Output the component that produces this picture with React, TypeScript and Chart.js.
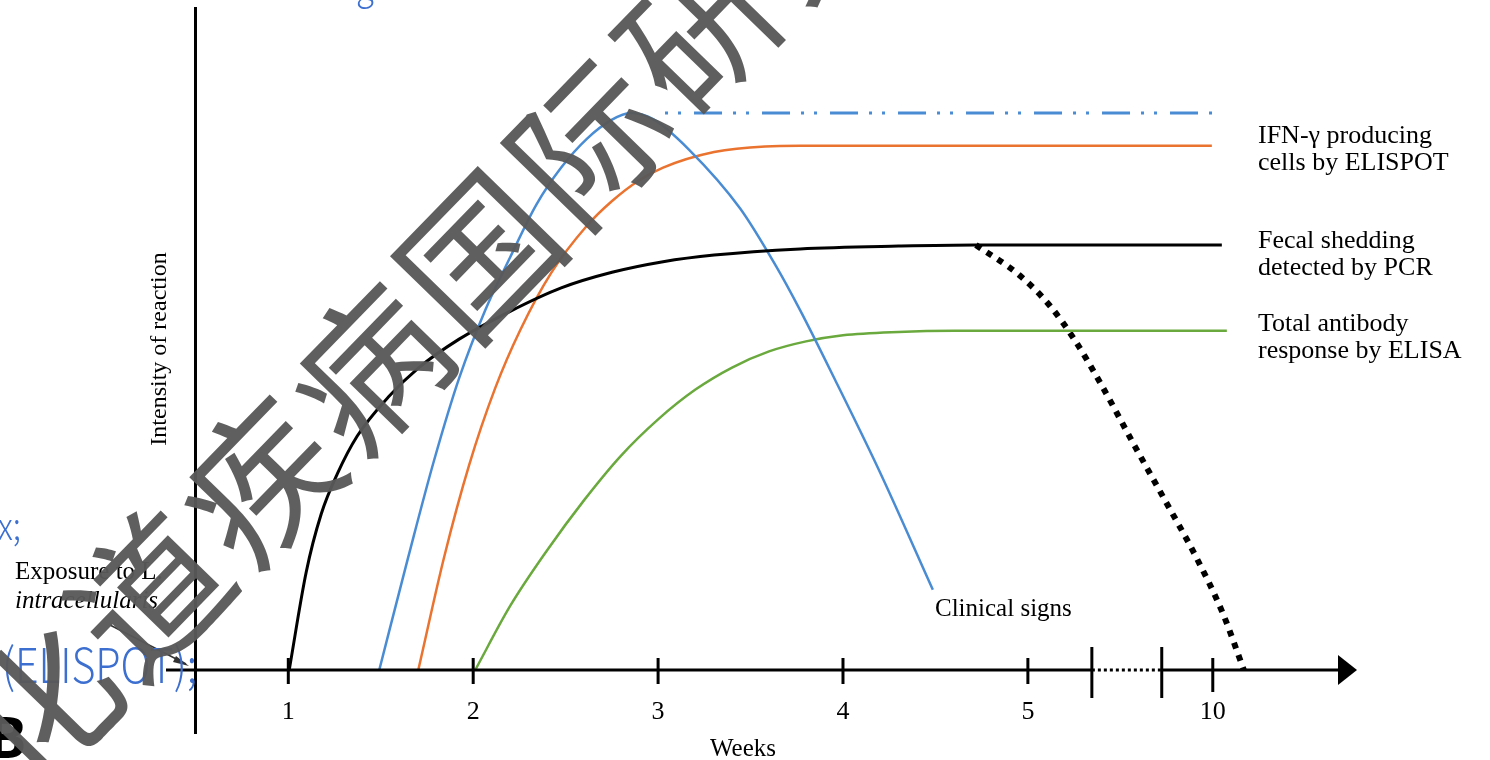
import { useEffect, useRef } from "react";
import { Chart, registerables } from "chart.js";

Chart.register(...registerables);

// ---- axis definition (x is a "position" scale: weeks 1..5 evenly spaced, then a break, then week 10) ----
const X_MIN = 0.49;
const X_MAX = 6.78;
const Y_MIN = -11.49;
const Y_MAX = 119.03;
const TICK_POSITIONS = [1, 2, 3, 4, 5, 6];
const TICK_LABELS = ["1", "2", "3", "4", "5", "10"];
const AXIS_BREAK = [5.346, 5.724];
const X_TITLE = "Weeks";
const Y_TITLE = "Intensity of reaction";

// ---- series ----
const fecalX = [1.005, 1.097, 1.178, 1.265, 1.373, 1.541, 1.703, 1.924, 2.2, 2.476, 2.751, 3.027, 3.303, 3.768, 4.3, 4.714, 6.049];
const fecalY = [0, 17.6, 28, 35.2, 42, 49, 54.2, 59.4, 64.4, 68.6, 71.4, 73.3, 74.5, 75.6, 76.1, 76.3, 76.3];

const clinicalX = [1.492, 1.649, 1.789, 1.924, 2.065, 2.2, 2.341, 2.476, 2.616, 2.751, 2.849, 2.973, 3.168, 3.443, 3.638, 3.768, 3.957, 4.2, 4.486];
const clinicalY = [0, 20.3, 37.7, 52.4, 64.6, 74.1, 83.5, 90.2, 95.4, 98.8, 100, 98.9, 93.4, 82.9, 72.5, 64.6, 52.1, 35.5, 14.4];

const ifnX = [1.703, 1.843, 1.978, 2.119, 2.254, 2.422, 2.616, 2.751, 2.892, 3.027, 3.303, 3.578, 3.768, 5.995];
const ifnY = [0, 20.3, 36.8, 50.6, 61.0, 71.3, 79.8, 84.2, 87.8, 90.2, 93.0, 94.0, 94.1, 94.1];

const antibodyX = [2.011, 2.2, 2.4, 2.6, 2.8, 3.0, 3.2, 3.4, 3.6, 3.8, 4.0, 4.3, 4.6, 6.076];
const antibodyY = [0, 11.5, 21.5, 30.5, 38.5, 45.0, 50.3, 54.3, 57.2, 59.0, 60.1, 60.7, 60.9, 60.9];

const plateauX = [2.978, 6.017];
const plateauY = [100, 100];

const declineX = [4.719, 4.957, 5.119, 5.254, 5.389, 5.578, 5.746, 5.908, 6.054, 6.168];
const declineY = [76.3, 70.8, 65.4, 59.2, 51.7, 40.2, 30.2, 20.4, 10.2, 0];

// ---- text ----
const SERIES_LABELS = [
  ["IFN-\u03b3 producing", "cells by ELISPOT"],
  ["Fecal shedding", "detected by PCR"],
  ["Total antibody", "response by ELISA"],
];
const CLINICAL_LABEL = "Clinical signs";
const EXPOSURE_LABEL = ["Exposure to L.", "intracellularis"];
const WATERMARK = ["化", "道", "疾", "病", "国", "际", "研", "究"];

const BLUE = "#4a8cd3";
const ORANGE = "#ea7330";
const GREEN = "#6aa93d";

const pts = (xs: number[], ys: number[]) => xs.map((x, i) => ({ x, y: ys[i] }));

const SERIF = "'Liberation Serif', 'Times New Roman', serif";
const SANS_LIGHT = "'Noto Sans CJK SC', 'Noto Sans', sans-serif";

const decorPlugin = {
  id: "decor",
  afterDraw(chart: any) {
    const ctx: CanvasRenderingContext2D = chart.ctx;
    const xs = chart.scales.x;
    const ys = chart.scales.y;
    const ca = chart.chartArea;
    const X = (v: number) => xs.getPixelForValue(v);
    const Y = (v: number) => ys.getPixelForValue(v);
    const y0 = Y(0);

    ctx.save();
    ctx.strokeStyle = "#000";
    ctx.fillStyle = "#000";
    ctx.lineWidth = 3;
    ctx.lineCap = "butt";

    // y axis
    const yAxisX = ca.left + 1.5;
    ctx.beginPath();
    ctx.moveTo(yAxisX, ca.top);
    ctx.lineTo(yAxisX, ca.bottom);
    ctx.stroke();

    // x axis
    const b0 = X(AXIS_BREAK[0]);
    const b1 = X(AXIS_BREAK[1]);
    const tip = X(X_MAX);
    const arrowBase = tip - 19;
    ctx.beginPath();
    ctx.moveTo(ca.left - 28, y0);
    ctx.lineTo(b0, y0);
    ctx.moveTo(b1, y0);
    ctx.lineTo(arrowBase + 1, y0);
    ctx.stroke();

    ctx.save();
    ctx.setLineDash([3, 3]);
    ctx.beginPath();
    ctx.moveTo(b0, y0);
    ctx.lineTo(b1, y0);
    ctx.stroke();
    ctx.restore();

    ctx.beginPath();
    ctx.moveTo(tip, y0);
    ctx.lineTo(arrowBase, y0 - 15);
    ctx.lineTo(arrowBase, y0 + 15);
    ctx.closePath();
    ctx.fill();

    // ticks
    TICK_POSITIONS.forEach((p, i) => {
      const x = X(p);
      ctx.beginPath();
      ctx.moveTo(x, y0 - 12);
      ctx.lineTo(x, y0 + (i === TICK_POSITIONS.length - 1 ? 22 : 14));
      ctx.stroke();
    });
    [b0, b1].forEach((x) => {
      ctx.beginPath();
      ctx.moveTo(x, y0 - 23);
      ctx.lineTo(x, y0 + 28);
      ctx.stroke();
    });

    // tick labels
    ctx.font = `26px ${SERIF}`;
    ctx.textAlign = "center";
    ctx.textBaseline = "alphabetic";
    TICK_POSITIONS.forEach((p, i) => ctx.fillText(TICK_LABELS[i], X(p), y0 + 49));

    // axis titles
    ctx.font = `25px ${SERIF}`;
    ctx.fillText(X_TITLE, 743, 756);
    ctx.save();
    ctx.translate(166, 349);
    ctx.rotate(-Math.PI / 2);
    ctx.font = `24px ${SERIF}`;
    ctx.fillText(Y_TITLE, 0, 0);
    ctx.restore();

    // series labels
    ctx.textAlign = "left";
    ctx.font = `26px ${SERIF}`;
    const labelBase = [143, 248, 331];
    SERIES_LABELS.forEach((lines, k) => {
      lines.forEach((t, j) => ctx.fillText(t, 1258, labelBase[k] + j * 27));
    });
    ctx.font = `25px ${SERIF}`;
    ctx.fillText(CLINICAL_LABEL, 935, 616);
    ctx.fillText(EXPOSURE_LABEL[0], 15, 579);
    ctx.font = `italic 25px ${SERIF}`;
    ctx.fillText(EXPOSURE_LABEL[1], 15, 608);

    // pointer
    ctx.strokeStyle = "#333";
    ctx.lineWidth = 1.5;
    ctx.beginPath();
    ctx.moveTo(110, 625);
    ctx.lineTo(186, 664);
    ctx.stroke();
    ctx.fillStyle = "#333";
    ctx.beginPath();
    ctx.moveTo(189, 666);
    ctx.lineTo(176, 656);
    ctx.lineTo(173, 662);
    ctx.closePath();
    ctx.fill();

    // stray page text around the figure
    ctx.fillStyle = "#3c6fd0";
    ctx.save();
    ctx.scale(0.86, 1);
    ctx.font = `300 48px ${SANS_LIGHT}`;
    ctx.textAlign = "right";
    ctx.fillText("(ELISPOT);", 197 / 0.86, 683);
    ctx.font = `300 38px ${SANS_LIGHT}`;
    ctx.fillText("x;", 21 / 0.86, 540);
    ctx.textAlign = "left";
    ctx.fillText("g", 356 / 0.86, 0);
    ctx.restore();
    ctx.fillStyle = "#000";
    ctx.font = "bold 58px 'Noto Sans', sans-serif";
    ctx.textAlign = "left";
    ctx.fillText("B", -12, 758);

    // watermark
    ctx.fillStyle = "rgba(88,88,88,0.96)";
    ctx.font = "152px 'Noto Sans CJK SC'";
    ctx.textAlign = "center";
    ctx.textBaseline = "middle";
    WATERMARK.forEach((ch, i) => {
      const cx = 39 + 110 * i;
      const cy = 707 - 113 * i;
      ctx.save();
      ctx.translate(cx, cy);
      ctx.rotate((-45.8 * Math.PI) / 180);
      ctx.fillText(ch, 0, 0);
      ctx.restore();
    });

    ctx.restore();
  },
};

export default function App() {
  const ref = useRef<HTMLCanvasElement>(null);
  useEffect(() => {
    const base = {
      pointRadius: 0,
      pointHoverRadius: 0,
      fill: false,
      cubicInterpolationMode: "monotone" as const,
    };
    const chart = new Chart(ref.current as HTMLCanvasElement, {
      type: "line",
      data: {
        datasets: [
          { ...base, label: "Fecal shedding detected by PCR", data: pts(fecalX, fecalY), borderColor: "#000", borderWidth: 3 },
          { ...base, label: "Clinical signs", data: pts(clinicalX, clinicalY), borderColor: BLUE, borderWidth: 2.5 },
          { ...base, label: "IFN-\u03b3 producing cells by ELISPOT", data: pts(ifnX, ifnY), borderColor: ORANGE, borderWidth: 2.5 },
          { ...base, label: "Total antibody response by ELISA", data: pts(antibodyX, antibodyY), borderColor: GREEN, borderWidth: 2.5 },
          {
            ...base,
            label: "IFN-\u03b3 plateau",
            data: pts(plateauX, plateauY),
            borderColor: BLUE,
            borderWidth: 3,
            borderDash: [28, 11, 3, 10, 3, 13],
            borderDashOffset: 28,
            borderCapStyle: "butt",
          },
          {
            ...base,
            label: "Fecal shedding decline",
            data: pts(declineX, declineY),
            borderColor: "#000",
            borderWidth: 6,
            borderDash: [6, 7],
            borderCapStyle: "butt",
          },
        ],
      },
      options: {
        animation: false,
        responsive: false,
        devicePixelRatio: 1,
        layout: { padding: { left: 194, right: 133, top: 7, bottom: 26 } },
        scales: {
          x: { type: "linear", display: false, min: X_MIN, max: X_MAX },
          y: { type: "linear", display: false, min: Y_MIN, max: Y_MAX },
        },
        plugins: { legend: { display: false }, tooltip: { enabled: false } },
        events: [],
      },
      plugins: [decorPlugin],
    });
    return () => chart.destroy();
  }, []);
  return (
    <canvas
      ref={ref}
      width={1490}
      height={760}
      style={{ position: "absolute", left: 0, top: 0, width: 1490, height: 760 }}
    />
  );
}
